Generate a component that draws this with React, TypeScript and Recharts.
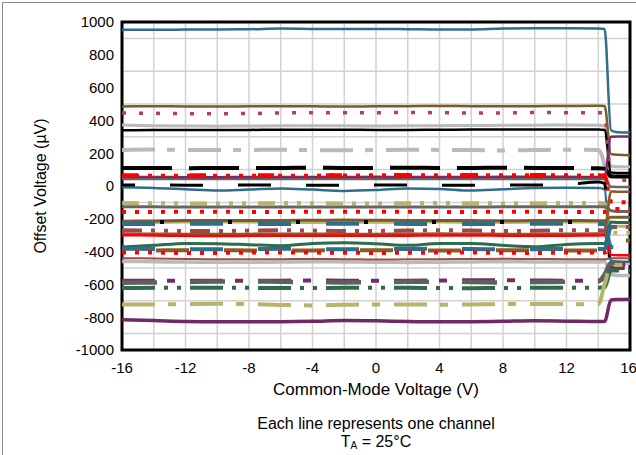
import { LineChart, Line, XAxis, YAxis, CartesianGrid, ReferenceArea, Label } from "recharts";

// common-mode voltage (V) sample points
const xs = [-16, -14, -12, -10, -8, -6, -4, -2, 0, 2, 4, 6, 8, 10, 12, 14, 14.4, 14.8, 15.2, 16];

const xTicks = [-16, -12, -8, -4, 0, 4, 8, 12, 16];
const yTicks = [-1000, -800, -600, -400, -200, 0, 200, 400, 600, 800, 1000];
const xGrid = [-14, -12, -10, -8, -6, -4, -2, 0, 2, 4, 6, 8, 10, 12, 14];
const yGrid = [-900, -800, -700, -600, -500, -400, -300, -200, -100, 0, 100, 200, 300, 400, 500, 600, 700, 800, 900];

// offset voltage (µV), one array per channel
const ch01 = [952, 952, 955, 955, 956, 960, 958, 957, 958, 956, 954, 955, 960, 962, 962, 960, 958, 340, 328, 326];
const ch02 = [485, 486, 485, 484, 486, 487, 486, 485, 486, 487, 488, 487, 486, 487, 488, 489, 488, 195, 190, 188];
const ch03 = [445, 443, 441, 440, 442, 445, 447, 446, 447, 448, 447, 445, 446, 448, 447, 446, 446, 40, 35, 35];
const ch04 = [372, 368, 366, 365, 366, 367, 368, 367, 366, 367, 368, 369, 370, 371, 372, 370, 368, 120, 118, 118];
const ch05 = [340, 342, 342, 341, 342, 343, 343, 343, 342, 342, 343, 344, 344, 345, 345, 344, 342, 82, 80, 80];
const ch06 = [220, 222, 220, 219, 220, 221, 219, 218, 219, 221, 220, 219, 217, 219, 221, 220, 120, -460, -468, -470];
const ch07 = [110, 110, 108, 110, 110, 110, 112, 110, 110, 112, 110, 110, 112, 110, 110, 108, 106, 60, 58, 58];
const ch08 = [62, 62, 63, 62, 62, 62, 63, 64, 65, 65, 65, 65, 66, 66, 65, 64, 62, -95, -98, -100];
const ch09 = [66, 66, 66, 66, 66, 66, 66, 66, 66, 67, 67, 67, 67, 67, 66, 66, 64, -60, -62, -62];
const ch10 = [55, 55, 54, 54, 55, 55, 55, 55, 56, 55, 55, 55, 56, 56, 56, 55, 55, 300, 302, 302];
const ch11 = [43, 42, 42, 42, 42, 43, 43, 42, 42, 42, 42, 42, 43, 43, 43, 42, 42, -5, -6, -6];
const ch12 = [6, 6, 5, 5, 6, 6, 5, 5, 6, 6, 5, 5, 6, 6, 10, 25, 15, -515, -520, -520];
const ch13 = [-8, -12, -20, -28, -22, -15, -22, -30, -25, -15, -18, -28, -20, -12, -10, -12, -20, -455, -460, -462];
const ch14 = [-104, -105, -106, -106, -105, -104, -105, -106, -106, -105, -104, -105, -106, -105, -104, -104, -105, -282, -285, -285];
const ch15 = [-126, -127, -128, -128, -128, -128, -128, -128, -128, -128, -128, -128, -127, -127, -126, -126, -126, -150, -155, -155];
const ch16 = [-158, -158, -157, -157, -158, -158, -157, -157, -157, -157, -158, -158, -157, -157, -158, -158, -158, -140, -140, -140];
const ch17 = [-215, -213, -211, -210, -210, -210, -209, -208, -209, -210, -210, -211, -212, -211, -210, -212, -212, -190, -190, -190];
const ch18 = [-222, -222, -220, -220, -220, -222, -222, -221, -221, -220, -220, -221, -222, -221, -220, -220, -220, -245, -245, -245];
const ch19 = [-232, -232, -230, -230, -232, -232, -231, -230, -230, -231, -232, -232, -231, -230, -230, -231, -232, -372, -375, -375];
const ch20 = [-220, -220, -220, -220, -220, -220, -220, -220, -220, -220, -220, -220, -220, -220, -220, -220, -220, -225, -225, -225];
const ch21 = [-270, -272, -275, -275, -272, -270, -272, -275, -274, -272, -270, -272, -275, -273, -270, -270, -272, -250, -250, -250];
const ch22 = [-300, -302, -304, -305, -304, -303, -303, -304, -304, -303, -302, -302, -303, -304, -303, -302, -300, -420, -422, -422];
const ch23 = [-290, -291, -292, -293, -292, -291, -291, -292, -292, -291, -290, -291, -292, -292, -291, -290, -290, -33, -35, -35];
const ch24 = [-372, -362, -350, -352, -358, -364, -350, -346, -352, -362, -350, -350, -362, -370, -356, -350, -352, -220, -222, -222];
const ch25 = [-382, -384, -385, -386, -385, -383, -384, -386, -385, -384, -383, -384, -386, -385, -384, -384, -385, -250, -252, -252];
const ch26 = [-395, -393, -392, -392, -393, -394, -393, -392, -392, -393, -394, -393, -392, -392, -393, -394, -393, -330, -332, -332];
const ch27 = [-405, -406, -408, -408, -406, -405, -406, -407, -408, -407, -406, -406, -407, -408, -406, -405, -405, -480, -482, -482];
const ch28 = [-440, -442, -445, -447, -447, -446, -445, -446, -448, -447, -446, -445, -444, -445, -446, -447, -447, -440, -440, -440];
const ch29 = [-460, -462, -464, -465, -465, -464, -462, -463, -465, -466, -465, -463, -462, -463, -464, -464, -460, -540, -545, -545];
const ch30 = [-578, -577, -577, -578, -578, -577, -576, -577, -578, -578, -576, -575, -575, -576, -578, -578, -560, -500, -500, -500];
const ch31 = [-590, -588, -585, -583, -582, -584, -586, -588, -586, -584, -583, -585, -588, -586, -584, -582, -540, -470, -472, -472];
const ch32 = [-622, -621, -620, -620, -621, -622, -622, -621, -620, -621, -622, -623, -622, -621, -620, -620, -618, -515, -515, -515];
const ch33 = [-722, -722, -720, -718, -720, -725, -728, -724, -722, -722, -724, -722, -720, -719, -720, -722, -600, -480, -482, -482];
const ch34 = [-815, -820, -826, -828, -828, -827, -825, -820, -822, -826, -828, -827, -825, -822, -824, -826, -826, -695, -692, -690];

const TEAL = "#2e6d8c";
const BROWN = "#7d5a2c";
const DKRED = "#a84848";
const LTGREY = "#bababa";
const DKGREY = "#666666";
const RED = "#ff0000";
const PURPLE = "#762c68";
const OLIVE = "#b8b46c";
const GREEN = "#2c6c4a";

type LineStyle = { color: string; width: number; dash?: string; offset?: number };

// drawing order: first entry at the bottom
const series: [string, number[], LineStyle][] = [
  ["ch29", ch29, { color: LTGREY, width: 3.5 }],
  ["ch28", ch28, { color: DKRED, width: 2 }],
  ["ch04", ch04, { color: LTGREY, width: 3 }],
  ["ch06", ch06, { color: LTGREY, width: 4, dash: "33 12 8 13" }],
  ["ch01", ch01, { color: TEAL, width: 2.5 }],
  ["ch02", ch02, { color: BROWN, width: 2.5 }],
  ["ch05", ch05, { color: "#000", width: 2.5 }],
  ["ch03", ch03, { color: DKRED, width: 3.5, dash: "4 13" }],
  ["ch07", ch07, { color: "#000", width: 4, dash: "50 17" }],
  ["ch11", ch11, { color: DKGREY, width: 2.5 }],
  ["ch10", ch10, { color: PURPLE, width: 2.5 }],
  ["ch09", ch09, { color: RED, width: 4, dash: "16 52" }],
  ["ch08", ch08, { color: RED, width: 4, dash: "4 9" }],
  ["ch13", ch13, { color: TEAL, width: 2.5 }],
  ["ch12", ch12, { color: "#000", width: 3, dash: "33 35", offset: 20 }],
  ["ch14", ch14, { color: OLIVE, width: 4, dash: "17 9 4 9 4 9 4 12" }],
  ["ch15", ch15, { color: DKGREY, width: 3 }],
  ["ch16", ch16, { color: RED, width: 4, dash: "4 9" }],
  ["ch18", ch18, { color: OLIVE, width: 3 }],
  ["ch17", ch17, { color: BROWN, width: 3 }],
  ["ch19", ch19, { color: TEAL, width: 4, dash: "33 35" }],
  ["ch20", ch20, { color: "#000", width: 4, dash: "4 64", offset: 30 }],
  ["ch23", ch23, { color: "#8b5a2b", width: 2.5 }],
  ["ch22", ch22, { color: RED, width: 2.5 }],
  ["ch21", ch21, { color: "#9e4848", width: 4, dash: "20 9 4 9 4 9 4 9" }],
  ["ch24", ch24, { color: GREEN, width: 3 }],
  ["ch25", ch25, { color: TEAL, width: 4, dash: "33 35" }],
  ["ch26", ch26, { color: "#8b5a2b", width: 4, dash: "33 35", offset: 34 }],
  ["ch27", ch27, { color: RED, width: 4, dash: "4 9" }],
  ["ch30", ch30, { color: PURPLE, width: 4, dash: "33 12 8 15" }],
  ["ch31", ch31, { color: "#5f5f5f", width: 4.5, dash: "35 33" }],
  ["ch32", ch32, { color: GREEN, width: 4, dash: "33 9 4 9 4 9" }],
  ["ch33", ch33, { color: OLIVE, width: 4, dash: "33 13 8 14" }],
  ["ch34", ch34, { color: "#6f2a63", width: 3.5 }],
];

const rows = xs.map((x, i) => {
  const row: Record<string, number> = { x };
  series.forEach(([key, vals]) => {
    row[key] = vals[i];
  });
  return row;
});

const FONT = "'Liberation Sans', Arial, sans-serif";

export default function App() {
  return (
    <div style={{ position: "absolute", left: 0, top: 0, width: 636, height: 455, background: "#fff", fontFamily: FONT }}>
      <div
        style={{
          position: "absolute",
          left: 2,
          top: 2,
          width: 634,
          height: 453,
          boxSizing: "border-box",
          borderLeft: "1.5px solid #8a8a8a",
          borderTop: "1.5px solid #8a8a8a",
        }}
      />
      <LineChart width={636} height={455} data={rows} margin={{ top: 22, right: 6, left: 0, bottom: 0 }}>
        <CartesianGrid
          stroke="#d2d2d2"
          strokeWidth={1.5}
          horizontalValues={yGrid}
          verticalValues={xGrid}
        />
        <XAxis
          dataKey="x"
          type="number"
          domain={[-16, 16]}
          ticks={xTicks}
          height={105}
          tickLine={false}
          axisLine={false}
          tickMargin={6}
          tick={{ fontSize: 15, fill: "#000", fontFamily: FONT }}
        >
          <Label value="Common-Mode Voltage (V)" position="insideTop" offset={33} style={{ fontSize: 17, fill: "#000", fontFamily: FONT }} />
        </XAxis>
        <YAxis
          type="number"
          domain={[-1000, 1000]}
          ticks={yTicks}
          width={122}
          tickLine={false}
          axisLine={false}
          tick={{ fontSize: 15, fill: "#000", fontFamily: FONT }}
        >
          <Label
            value="Offset Voltage (µV)"
            angle={-90}
            position="insideLeft"
            offset={40}
            style={{ fontSize: 16, fill: "#000", fontFamily: FONT, textAnchor: "middle" }}
          />
        </YAxis>
        {series.map(([key, , s]) => (
          <Line
            key={key}
            dataKey={key}
            type="monotone"
            stroke={s.color}
            strokeWidth={s.width}
            strokeDasharray={s.dash}
            strokeDashoffset={s.offset}
            dot={false}
            activeDot={false}
            isAnimationActive={false}
          />
        ))}
        <ReferenceArea x1={-16} x2={16} y1={-1000} y2={1000} fill="none" stroke="#000" strokeWidth={3} ifOverflow="visible" />
      </LineChart>
      <div
        style={{
          position: "absolute",
          left: 126,
          top: 415,
          width: 500,
          textAlign: "center",
          fontSize: 16,
          lineHeight: "18px",
          color: "#000",
        }}
      >
        <div>Each line represents one channel</div>
        <div>
          T<span style={{ fontSize: 10, position: "relative", top: 2 }}>A</span> = 25°C
        </div>
      </div>
    </div>
  );
}
